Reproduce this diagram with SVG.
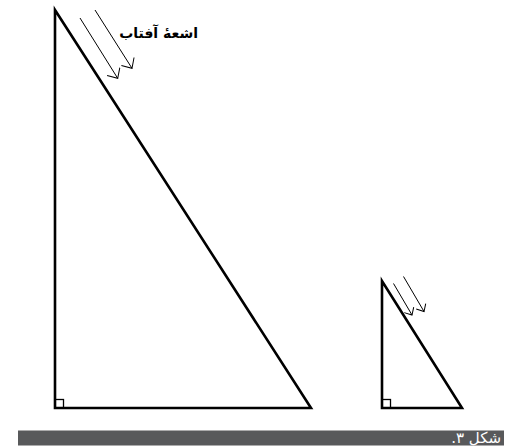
<svg xmlns="http://www.w3.org/2000/svg" width="519" height="446" viewBox="0 0 519 446">
<style>
.tri{fill:none;stroke:#000;stroke-width:2.6;stroke-linejoin:miter}
.sq{fill:none;stroke:#000;stroke-width:1.3}
.ray{fill:none;stroke:#000;stroke-width:1}
.lbl{font-family:"DejaVu Sans",sans-serif;font-weight:bold;font-size:14px;fill:#000}
.cap{font-family:"DejaVu Sans",sans-serif;font-size:15px;fill:#fff}
</style>
<defs>
<marker id="vhead" viewBox="-12 -8 14 16" markerWidth="14" markerHeight="16" refX="0" refY="0" orient="auto" markerUnits="userSpaceOnUse">
<path d="M-8,-7.5 L0,0 L-8,7.5" fill="none" stroke="#000" stroke-width="1"/>
</marker>
<marker id="vheadS" viewBox="-12 -8 14 16" markerWidth="14" markerHeight="16" refX="0" refY="0" orient="auto" markerUnits="userSpaceOnUse">
<path d="M-6,-5.5 L0,0 L-6,5.5" fill="none" stroke="#000" stroke-width="1"/>
</marker>
</defs>
<g id="big-triangle">
<path class="tri" d="M55,10 L55,408 L311,408 Z"/>
<rect class="sq" x="55" y="399.5" width="8.5" height="8.5"/>
</g>
<g id="small-triangle">
<path class="tri" d="M382,281 L382,408 L462,408 Z"/>
<rect class="sq" x="382" y="399.5" width="8.5" height="8.5"/>
</g>
<g id="connectors">
<line class="ray" x1="80" y1="18" x2="117.7" y2="78.3" marker-end="url(#vhead)"/>
<line class="ray" x1="95" y1="10" x2="132" y2="68.3" marker-end="url(#vhead)"/>
<line class="ray" x1="393.5" y1="283.5" x2="412" y2="315" marker-end="url(#vheadS)"/>
<line class="ray" x1="403.5" y1="276.5" x2="424" y2="311.5" marker-end="url(#vheadS)"/>
</g>
<g id="label">
<text class="lbl" x="198" y="38" direction="rtl" text-anchor="start">اشعهٔ آفتاب</text>
</g>
<g id="caption">
<rect x="18" y="430.5" width="486" height="15" fill="#58595b"/>
<text class="cap" x="501" y="443" direction="rtl" text-anchor="start">شکل ۳.</text>
</g>
</svg>
